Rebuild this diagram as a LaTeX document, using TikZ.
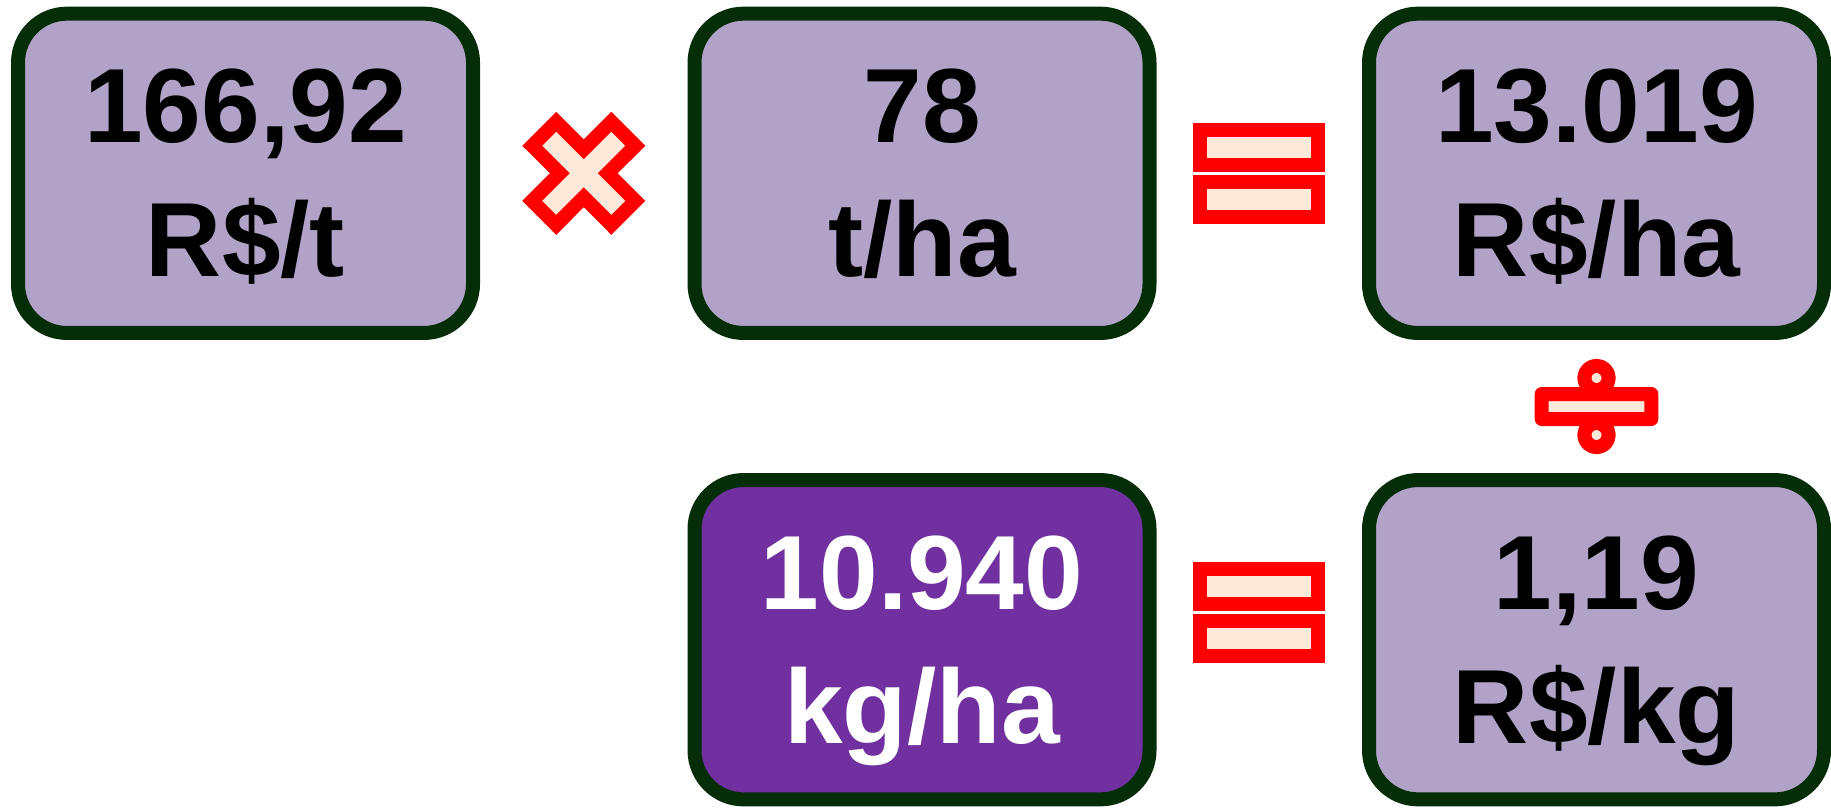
\documentclass[tikz,border=0pt]{standalone}
\usepackage{fontspec}
\setmainfont{Liberation Sans}
\usepackage{tikz}
\usetikzlibrary{calc}

\definecolor{boxfill}{RGB}{177,162,199}
\definecolor{boxedge}{RGB}{5,45,8}
\definecolor{darkfill}{RGB}{112,48,160}
\definecolor{signred}{RGB}{255,0,0}
\definecolor{signfill}{RGB}{252,233,218}

\begin{document}
\begin{tikzpicture}[
    valbox/.style={draw=boxedge, fill=boxfill, line width=0.14cm, rounded corners=0.49cm,
      minimum width=4.55cm, minimum height=3.193cm, align=center,
      font=\fontsize{30}{38.1}\selectfont\bfseries, text height=2.466cm, text depth=0.4cm},
    opsign/.style={draw=signred, fill=signfill, line width=0.14cm}]
  \useasboundingbox (0,0) rectangle (18.31,8.07);
  % Price, yield and revenue per hectare
  \node[valbox] (price) at (2.455,6.337) {166,92\\R\$/t};
  \node[valbox] (yield) at (9.22,6.337) {78\\t/ha};
  \node[valbox] (revenue) at (15.965,6.337) {13.019\\R\$/ha};
  % Sugar per hectare and price per kg
  \node[valbox, fill=darkfill, text=white] (sugar) at (9.22,1.673) {10.940\\kg/ha};
  \node[valbox] (perkg) at (15.965,1.673) {1,19\\R\$/kg};
  % Operator signs between the boxes
  \coordinate (times) at ($(price.east)!0.5!(yield.west)$);
  \coordinate (eqtop) at ($(yield.east)!0.5!(revenue.west)$);
  \coordinate (eqbottom) at ($(sugar.east)!0.5!(perkg.west)+(0,0.272)$);
  \coordinate (divide) at ($(revenue.south)!0.5!(perkg.north)$);
  \draw[opsign, shift={(times)}] (28.1:0.585) -- (61.9:0.585) -- (90:0.24)
    -- (118.1:0.585) -- (151.9:0.585) -- (180:0.24)
    -- (208.1:0.585) -- (241.9:0.585) -- (270:0.24)
    -- (298.1:0.585) -- (331.9:0.585) -- (0:0.24) -- cycle;
  \foreach \e in {eqtop, eqbottom}
    \draw[opsign, shift={(\e)}] (-0.592,0.0865) rectangle (0.592,0.4335)
      (-0.592,-0.4335) rectangle (0.592,-0.0865);
  \draw[opsign, line join=round, shift={(divide)}] (-0.548,-0.125) rectangle (0.548,0.125)
    (0,0.285) circle (0.122) (0,-0.285) circle (0.122);
\end{tikzpicture}
\end{document}
